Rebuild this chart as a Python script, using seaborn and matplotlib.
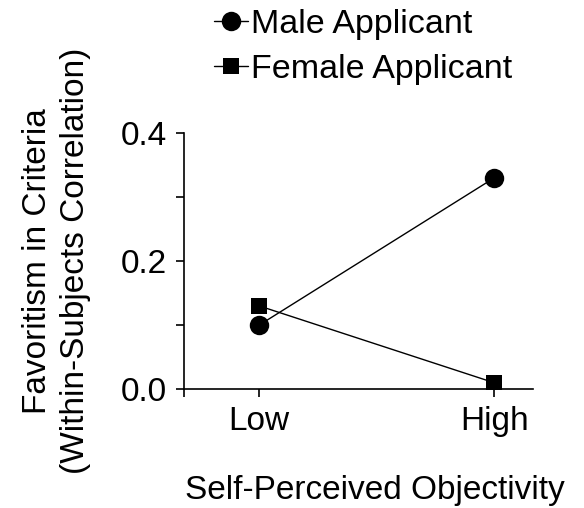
import numpy as np
import pandas as pd
import seaborn as sns
import matplotlib.pyplot as plt

# values
levels = ["Low", "High"]
male_vals = [0.10, 0.33]
female_vals = [0.13, 0.01]
groups = ["Male Applicant", "Female Applicant"]

df = pd.DataFrame({
    "objectivity": levels * 2,
    "x": [0, 1] * 2,
    "favoritism": male_vals + female_vals,
    "applicant": [groups[0]] * 2 + [groups[1]] * 2,
})

sns.set_style("ticks")
plt.rcParams["font.family"] = ["Liberation Sans", "DejaVu Sans"]
plt.rcParams["text.color"] = "black"
plt.rcParams["axes.labelcolor"] = "black"

fig = plt.figure(figsize=(5.84, 5.08), dpi=100)
ax = fig.add_axes([0.315, 0.234, 0.598, 0.504])

sns.lineplot(data=df, x="x", y="favoritism", hue="applicant", style="applicant",
             markers={groups[0]: "o", groups[1]: "s"}, dashes=False,
             palette={groups[0]: "black", groups[1]: "black"},
             markersize=14, markeredgewidth=0, linewidth=1, ax=ax)

# squares look smaller than circles in the original
for ln in ax.lines:
    if ln.get_marker() == "s":
        ln.set_markersize(11.5)

x_left = -0.32
ax.set_xlim(x_left, 1.166)
ax.set_ylim(0, 0.4)
ax.set_xticks([x_left, 0, 1])
ax.set_xticklabels(["", "Low", "High"])
ax.set_yticks([0.0, 0.2, 0.4])
ax.set_yticks([0.1, 0.3], minor=True)
ax.yaxis.set_major_formatter(plt.FormatStrFormatter("%.1f"))
ax.tick_params(axis="both", which="both", direction="out", length=6, width=1.2,
               colors="black", labelsize=24, pad=6)
for s in ["top", "right"]:
    ax.spines[s].set_visible(False)
for s in ["left", "bottom"]:
    ax.spines[s].set_linewidth(1.2)
    ax.spines[s].set_color("black")

ax.set_xlabel("Self-Perceived Objectivity", fontsize=24)
ax.xaxis.set_label_coords(0.547, -0.335)
ax.set_ylabel("Favoritism in Criteria\n(Within-Subjects Correlation)", fontsize=24,
              linespacing=1.3)
ax.yaxis.set_label_coords(-0.266, 0.5)

handles, labels = ax.get_legend_handles_labels()
leg = ax.legend(handles=handles, labels=labels, loc="upper left",
                bbox_to_anchor=(0.366, 0.983), bbox_transform=fig.transFigure,
                frameon=False, fontsize=24.5, handlelength=1.0, handletextpad=0.1,
                labelspacing=0.42, borderaxespad=0, borderpad=0)
for h in leg.legend_handles:
    if h.get_marker() == "s":
        h.set_markersize(11.5)

fig.savefig("out.png", dpi=100)
